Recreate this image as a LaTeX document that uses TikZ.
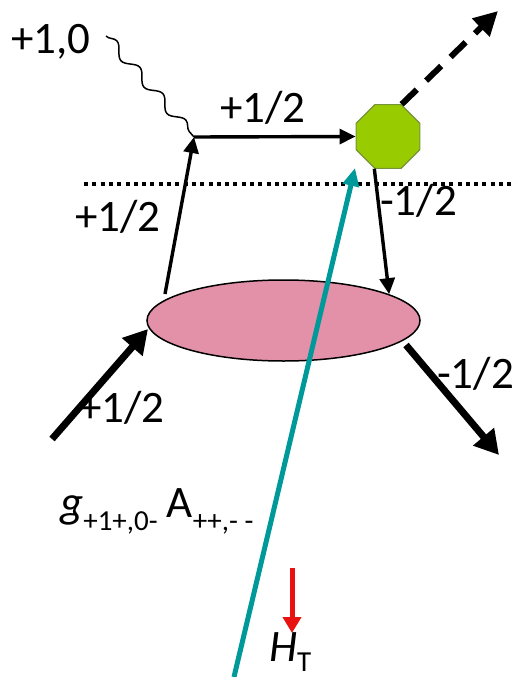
\documentclass[tikz,border=0pt]{standalone}
\usepackage{fontspec}
\setmainfont{Carlito}
\usetikzlibrary{arrows.meta,shapes.geometric,decorations.pathmorphing}
\definecolor{octfill}{RGB}{153,204,0}
\definecolor{octdraw}{RGB}{119,147,60}
\definecolor{blobfill}{RGB}{226,145,169}
\definecolor{tealc}{RGB}{0,153,153}
\definecolor{redc}{RGB}{232,18,18}
\begin{document}
\begin{tikzpicture}[x=1pt,y=-1pt,
  lbl/.style={font=\fontsize{45}{50}\selectfont, inner sep=0, anchor=base west},
  thinarrow/.style={line width=3.4pt, -{Triangle[length=16pt,width=15pt]}},
  thickarrow/.style={line width=7pt, -{Triangle[length=24pt,width=26pt]}},
  dasharrow/.style={line width=6pt, dash pattern=on 21pt off 13pt, -{Triangle[length=24pt,width=24pt]}},
  tealarrow/.style={tealc, line width=5pt, -{Triangle[length=18pt,width=16pt]}},
  redarrow/.style={redc, line width=5pt, -{Triangle[length=16pt,width=18pt]}},
  wavy/.style={line width=1.5pt, decorate, decoration={snake, segment length=35pt, amplitude=5pt}},
  dotline/.style={line width=3.5pt, dash pattern=on 4pt off 4.3pt}]
\useasboundingbox (0,0) rectangle (516,677);

% shapes
\node[ellipse, minimum width=273pt, minimum height=81pt, inner sep=0, fill=blobfill, draw=black, line width=1.5pt] (E) at (283.5,320.5) {};
\node[regular polygon, regular polygon sides=8, minimum size=69pt, inner sep=0, fill=octfill, draw=octdraw, line width=1.2pt] (O) at (388,136.5) {};

% coordinates
\coordinate (v) at (194,137);
\coordinate (a1) at (165,294);
\coordinate (w0) at (106,36);
\coordinate (d1) at (498,11);
\coordinate (l0) at (52,439);
\coordinate (l1) at (148,329);
\coordinate (r0) at (406,345);
\coordinate (r1) at (499,455);
\coordinate (t0) at (234,677);
\coordinate (t1) at (355,168);
\coordinate (h0) at (292,568);
\coordinate (h1) at (292,633);
\coordinate (p0) at (84,184);
\coordinate (p1) at (516,184);

% dotted line
\draw[dotline] (p0) -- (p1);

% connectors
\draw[wavy] (w0) -- (v);
\draw[thinarrow] (a1) -- (v);
\draw[thinarrow] (v) -- (O.west);
\draw[thinarrow] (O.247.5) -- (E.14);
\draw[dasharrow] (O.67.5) -- (d1);
\draw[thickarrow] (l0) -- (l1);
\draw[thickarrow] (r0) -- (r1);
\draw[tealarrow] (t0) -- (t1);
\draw[redarrow] (h0) -- (h1);

% labels
\node[lbl] (t10) at (11,53) {+1,0};
\node[lbl] (ttop) at (220,122) {+1/2};
\node[lbl] (tleft) at (75,231) {+1/2};
\node[lbl] (tlow) at (79,422) {+1/2};
\node[lbl] (tm1) at (380,215) {-1/2};
\node[lbl] (tm2) at (437,388) {-1/2};
\node[lbl] (gA) at (60,517) {\textit{g}\raisebox{-13pt}{\fontsize{29}{32}\selectfont +1+,0-}\hspace{9pt}A\raisebox{-13pt}{\fontsize{29}{32}\selectfont ++,- -}};
\node[lbl] (HT) at (269,661) {\textit{H}\raisebox{-10pt}{\fontsize{29}{32}\selectfont T}};
\end{tikzpicture}
\end{document}
